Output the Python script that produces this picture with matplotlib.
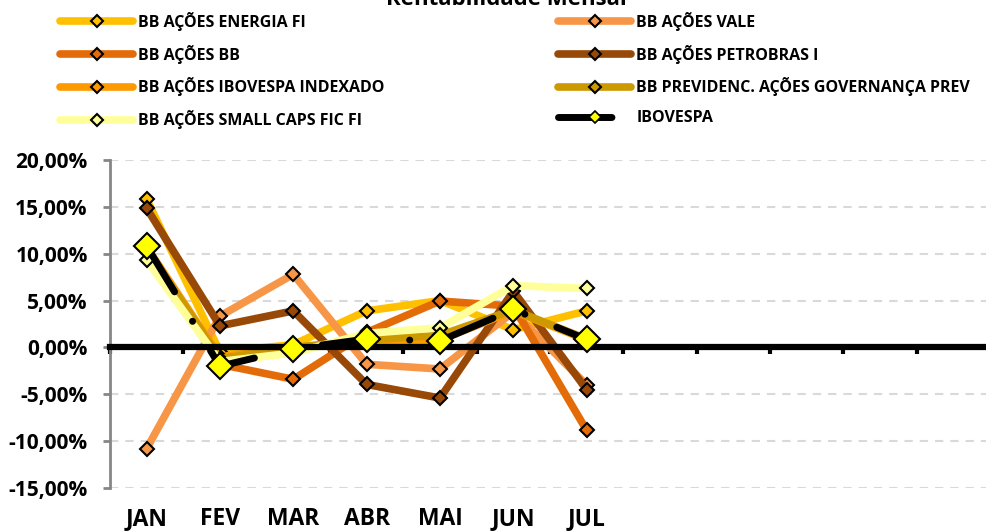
import numpy as np
import matplotlib.pyplot as plt
from matplotlib.lines import Line2D

plt.rcParams['font.family'] = ['Open Sans', 'DejaVu Sans']
plt.rcParams['font.weight'] = 'bold'
plt.rcParams['lines.scale_dashes'] = False

months = ['JAN', 'FEV', 'MAR', 'ABR', 'MAI', 'JUN', 'JUL', '', '', '', '', '']

# monthly returns (%), JAN..JUL
energia = [15.8, -0.5, 0.3, 3.9, 5.0, 1.9, 3.9]
vale = [-10.8, 3.35, 7.8, -1.8, -2.3, 3.8, -4.0]
bb = [10.6, -1.8, -3.4, 1.6, 4.95, 4.4, -8.85]
petrobras = [14.85, 2.3, 3.9, -3.95, -5.4, 6.0, -4.5]
indexado = [10.7, -1.0, 0.0, 0.6, 0.8, 3.9, 0.8]
governanca = [10.5, -1.2, 0.0, 0.8, 1.3, 4.0, 0.9]
small_caps = [9.3, -1.5, -0.6, 1.5, 2.1, 6.6, 6.3]
ibovespa = [10.8, -2.0, -0.15, 0.9, 0.7, 4.05, 0.85]

names = ['BB AÇÕES ENERGIA FI', 'BB AÇÕES VALE', 'BB AÇÕES BB', 'BB AÇÕES PETROBRAS I',
         'BB AÇÕES IBOVESPA INDEXADO', 'BB PREVIDENC. AÇÕES GOVERNANÇA PREV',
         'BB AÇÕES SMALL CAPS FIC FI', 'IBOVESPA']
series = [energia, vale, bb, petrobras, indexado, governanca, small_caps, ibovespa]
colors = ['#FFC000', '#F79646', '#E36C09', '#984807', '#FF9900', '#CC9900', '#FFFF99', '#000000']

fig = plt.figure(figsize=(9.86, 5.32), dpi=100)
ax = fig.add_axes([110/986, 1 - 488/532, 880/986, 328/532])

x = np.arange(len(energia))
dash = (0, (38.5, 24.8, 0.1, 24.8))
handles = []
for name, vals, c in zip(names, series, colors):
    if name == 'IBOVESPA':
        ax.plot(x, vals, color='k', lw=5, ls=dash,
                dash_capstyle='round', solid_capstyle='round', zorder=5)
        ax.plot(x, vals, ls='none', marker='D', ms=13, mfc='#FFFF00', mec='k', mew=1.5, zorder=6)
        h = Line2D([], [], color='k', lw=5, ls=dash,
                   dash_capstyle='round', marker='D', ms=6, mfc='#FFFF00', mec='k', mew=1.2)
    else:
        ax.plot(x, vals, color=c, lw=5.5, marker='D', ms=7.5, mfc=c, mec='k', mew=1.5,
                solid_capstyle='round', solid_joinstyle='round')
        h = Line2D([], [], color=c, lw=5.5, marker='D', ms=6, mfc=c, mec='k', mew=1.5,
                   solid_capstyle='round')
    handles.append(h)

ax.set_xlim(-0.5, 11.5)
ax.set_ylim(-15, 20)
ax.set_yticks(np.arange(-15, 21, 5))
ax.set_yticklabels([f'{v:.2f}%'.replace('.', ',') for v in np.arange(-15, 21, 5)],
                   fontsize=15)
ax.tick_params(axis='y', length=5, width=2, color='#868686', pad=11)
for v in np.arange(-15, 21, 5):
    if v != 0:
        ax.axhline(v, color='#D9D9D9', lw=1.5, ls=(0, (6, 5)), zorder=0)

for s in ['top', 'right']:
    ax.spines[s].set_visible(False)
ax.spines['left'].set_color('#868686')
ax.spines['left'].set_linewidth(2)
ax.spines['bottom'].set_position(('data', 0))
ax.spines['bottom'].set_color('k')
ax.spines['bottom'].set_linewidth(4.5)
ax.set_xticks(np.arange(-0.5, 12, 1), minor=True)
ax.set_xticks(np.arange(12))
ax.set_xticklabels([])
ax.tick_params(axis='x', which='major', length=0)
ax.tick_params(axis='x', which='minor', length=5, width=3, color='k')
for i, m in enumerate(months):
    ax.text(i, -0.113, m, transform=ax.get_xaxis_transform(), ha='center', va='baseline',
            fontsize=16.5)

left = [handles[i] for i in (0, 2, 4, 6)]
right = [handles[i] for i in (1, 3, 5, 7)]
kw = dict(frameon=False, fontsize=11.5, handlelength=4.6, handletextpad=0.3,
          labelspacing=0.86, borderpad=0, borderaxespad=0, loc='upper left')
leg1 = fig.legend(left, [names[i] for i in (0, 2, 4, 6)], bbox_to_anchor=(60/986, 1 - 12/532), **kw)
leg2 = fig.legend(right, [names[i] for i in (1, 3, 5, 7)], bbox_to_anchor=(558/986, 1 - 12/532), **kw)

fig.text(506/986, 1 - 5/532, 'Rentabilidade Mensal', ha='center', va='baseline',
         fontsize=16)

fig.savefig('out.png', dpi=100)
